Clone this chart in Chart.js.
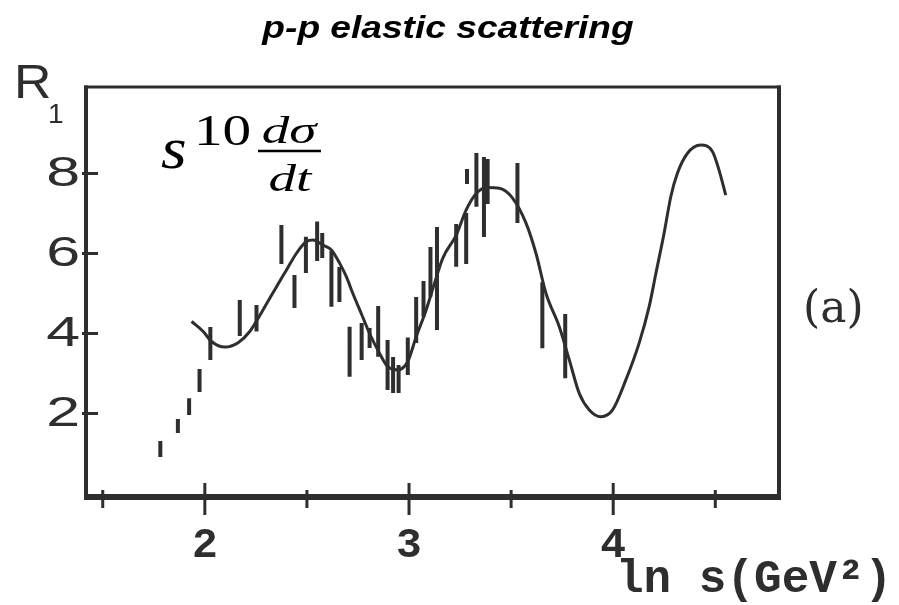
<!DOCTYPE html>
<html>
<head>
<meta charset="utf-8">
<script src="https://cdn.jsdelivr.net/npm/chart.js@4.4.1/dist/chart.umd.min.js"></script>
<style>
  html, body { margin: 0; padding: 0; background: #ffffff; }
  canvas { display: block; }
</style>
</head>
<body>
<canvas id="c" width="899" height="605"></canvas>
<script>
// ---- labels ----
const titleText = 'p-p elastic scattering';
const yAxisName = 'R';
const yAxisSub = '1';
const xAxisName = 'ln s(GeV\u00B2)';
const panelTag = '(a)';

// ---- ticks ----
const xTickValues = [1.5, 2, 2.5, 3, 3.5, 4, 4.5];
const xTickLabels = ['', '2', '', '3', '', '4', ''];
const yTickValues = [2, 4, 6, 8];
const yTickLabels = ['2', '4', '6', '8'];

// ---- fitted curve (ln s, R1) ----
const fitX = [1.935, 1.992, 2.033, 2.098, 2.163, 2.220, 2.285, 2.351, 2.400, 2.448,
              2.497, 2.530, 2.578, 2.620, 2.660, 2.693, 2.725, 2.766, 2.807, 2.856,
              2.896, 2.945, 2.994, 3.035, 3.084, 3.125, 3.165, 3.231, 3.280, 3.329,
              3.384, 3.443, 3.508, 3.573, 3.622, 3.671, 3.736, 3.785, 3.834, 3.883,
              3.940, 3.997, 4.062, 4.127, 4.176, 4.209, 4.249, 4.282, 4.314, 4.363,
              4.429, 4.486, 4.518, 4.551];
const fitY = [4.30, 4.05, 3.80, 3.66, 3.77, 4.05, 4.59, 5.17, 5.59, 6.00,
              6.30, 6.34, 6.21, 6.09, 5.76, 5.42, 5.00, 4.50, 4.00, 3.50,
              3.17, 3.09, 3.30, 3.92, 4.59, 5.26, 5.88, 6.46, 7.09, 7.50,
              7.65, 7.63, 7.38, 6.76, 6.00, 5.00, 4.17, 3.34, 2.50, 2.09,
              1.92, 2.09, 2.84, 3.76, 4.67, 5.50, 6.50, 7.42, 8.00, 8.50,
              8.71, 8.55, 8.09, 7.46];

// ---- measurements: position and error-bar extent ----
const dataX    = [1.782, 1.868, 1.923, 1.974, 2.027, 2.171, 2.253, 2.375, 2.439, 2.495,
                  2.550, 2.575, 2.620, 2.659, 2.709, 2.768, 2.807, 2.849, 2.895, 2.922,
                  2.949, 2.994, 3.035, 3.071, 3.105, 3.137, 3.231, 3.280, 3.284, 3.330,
                  3.367, 3.385, 3.531, 3.653, 3.765];
const dataLow  = [0.91, 1.51, 1.96, 2.54, 3.34, 3.94, 4.05, 5.74, 4.64, 5.51,
                  5.81, 5.89, 4.67, 4.79, 2.92, 3.34, 3.64, 3.42, 2.59, 2.51,
                  2.51, 2.96, 3.76, 4.42, 4.92, 4.09, 5.67, 5.74, 7.74, 7.17,
                  6.41, 7.24, 6.76, 3.63, 2.88];
const dataHigh = [1.31, 1.86, 2.38, 3.11, 4.16, 4.84, 4.71, 6.71, 5.46, 6.42,
                  6.80, 6.51, 6.06, 5.66, 4.17, 4.26, 4.14, 4.69, 3.84, 3.41,
                  3.21, 3.90, 4.91, 5.31, 6.16, 6.66, 6.74, 7.01, 8.11, 8.51,
                  8.41, 8.36, 8.26, 5.28, 4.49];

const ink = '#2e2e2e';

const fitPoints = fitX.map((x, i) => ({ x: x, y: fitY[i] }));
const barPoints = [];
dataX.forEach((x, i) => {
  barPoints.push({ x: x, y: dataLow[i] });
  barPoints.push({ x: x, y: dataHigh[i] });
  barPoints.push({ x: x, y: null });
});

// text drawn with a horizontal stretch around an anchor
function stretchedText(ctx, text, x, y, sx, font, align) {
  ctx.save();
  ctx.translate(x, y);
  ctx.scale(sx, 1);
  ctx.font = font;
  ctx.textAlign = align || 'left';
  ctx.fillText(text, 0, 0);
  ctx.restore();
}

// frame, tick marks and the free-standing text around the plot
const decorations = {
  id: 'decorations',
  beforeDraw(chart) {
    const ctx = chart.ctx;
    ctx.save();
    ctx.fillStyle = '#ffffff';
    ctx.fillRect(0, 0, chart.width, chart.height);
    ctx.restore();
  },
  afterDraw(chart) {
    const ctx = chart.ctx;
    const a = chart.chartArea;
    const xs = chart.scales.x, ys = chart.scales.y;
    ctx.save();
    ctx.strokeStyle = ink;
    ctx.lineCap = 'butt';

    // frame
    const side = (x1, y1, x2, y2, w) => {
      ctx.lineWidth = w;
      ctx.beginPath(); ctx.moveTo(x1, y1); ctx.lineTo(x2, y2); ctx.stroke();
    };
    side(a.left - 2, a.top, a.right + 2, a.top, 3);
    side(a.left, a.top - 1.5, a.left, a.bottom + 3, 4);
    side(a.right, a.top - 1.5, a.right, a.bottom + 3, 4);
    side(a.left - 2, a.bottom, a.right + 2, a.bottom, 6);

    // x tick marks: long at labelled values, short in between
    xTickValues.forEach((v, i) => {
      const px = xs.getPixelForValue(v);
      const major = xTickLabels[i] !== '';
      side(px, a.bottom - (major ? 14 : 7), px, a.bottom + (major ? 18 : 11), 3);
    });
    // y tick marks
    yTickValues.forEach(v => {
      const py = ys.getPixelForValue(v);
      side(a.left - 4, py, a.left + 12, py, 3);
    });

    // y tick labels (wide sans)
    ctx.fillStyle = ink;
    ctx.textBaseline = 'middle';
    yTickValues.forEach((v, i) => {
      const py = ys.getPixelForValue(v);
      stretchedText(ctx, yTickLabels[i], a.left - 6, py + 1, 1.45,
                    '42px "Liberation Sans", Arial, sans-serif', 'right');
    });

    // axis names
    ctx.textBaseline = 'alphabetic';
    stretchedText(ctx, yAxisName, 14, 98, 1.08, '48px "Liberation Sans", Arial, sans-serif');
    stretchedText(ctx, yAxisSub, 48, 123, 1, '28px "Liberation Sans", Arial, sans-serif');

    ctx.font = 'bold 46px "Liberation Mono", "Courier New", monospace';
    ctx.textAlign = 'left';
    ctx.fillText(xAxisName, 616, 592);

    // panel tag
    ctx.font = '44px "DejaVu Serif", serif';
    ctx.fillText(panelTag, 803, 322);

    // title
    ctx.fillStyle = '#000000';
    stretchedText(ctx, titleText, 448, 38, 1.16,
                  'italic bold 32px "Liberation Sans", Arial, sans-serif', 'center');

    // quantity plotted: s^10 dσ/dt
    const serif = '"Liberation Serif", "Times New Roman", serif';
    stretchedText(ctx, 's', 161, 168, 1.1, 'italic 60px ' + serif);
    stretchedText(ctx, '10', 194, 145, 1.3, '44px ' + serif);
    stretchedText(ctx, 'd\u03C3', 289, 143, 1.45, 'italic 38px ' + serif, 'center');
    stretchedText(ctx, 'dt', 290, 191, 1.45, 'italic 38px ' + serif, 'center');
    ctx.strokeStyle = '#000000';
    side(258, 151, 321, 151, 2.5);

    ctx.restore();
  }
};

new Chart(document.getElementById('c'), {
  type: 'scatter',
  data: {
    datasets: [
      {
        label: 'data',
        data: barPoints,
        showLine: true,
        spanGaps: false,
        borderColor: ink,
        borderWidth: 4,
        borderCapStyle: 'butt',
        pointRadius: 0,
        pointHoverRadius: 0
      },
      {
        label: 'fit',
        data: fitPoints,
        showLine: true,
        borderColor: ink,
        borderWidth: 3,
        cubicInterpolationMode: 'monotone',
        pointRadius: 0,
        pointHoverRadius: 0
      }
    ]
  },
  options: {
    responsive: false,
    animation: false,
    devicePixelRatio: 1,
    layout: { padding: { left: 0, right: 120, top: 87, bottom: 0 } },
    plugins: {
      legend: { display: false },
      title: { display: false },
      tooltip: { enabled: false }
    },
    scales: {
      x: {
        type: 'linear',
        min: 1.418,
        max: 4.812,
        border: { display: false },
        grid: { display: false },
        afterBuildTicks: s => { s.ticks = xTickValues.map(v => ({ value: v })); },
        afterFit: s => { s.height = 108; },
        ticks: {
          autoSkip: false,
          maxRotation: 0,
          padding: 15,
          color: ink,
          font: { family: '"Liberation Mono", "Courier New", monospace', size: 43, weight: 'bold' },
          callback: v => { const i = xTickValues.indexOf(v); return i >= 0 ? xTickLabels[i] : ''; }
        }
      },
      y: {
        type: 'linear',
        min: -0.0875,
        max: 10.1625,
        border: { display: false },
        grid: { display: false },
        afterBuildTicks: s => { s.ticks = yTickValues.map(v => ({ value: v })); },
        afterFit: s => { s.width = 86; },
        ticks: { display: false }
      }
    }
  },
  plugins: [decorations]
});
</script>
</body>
</html>
